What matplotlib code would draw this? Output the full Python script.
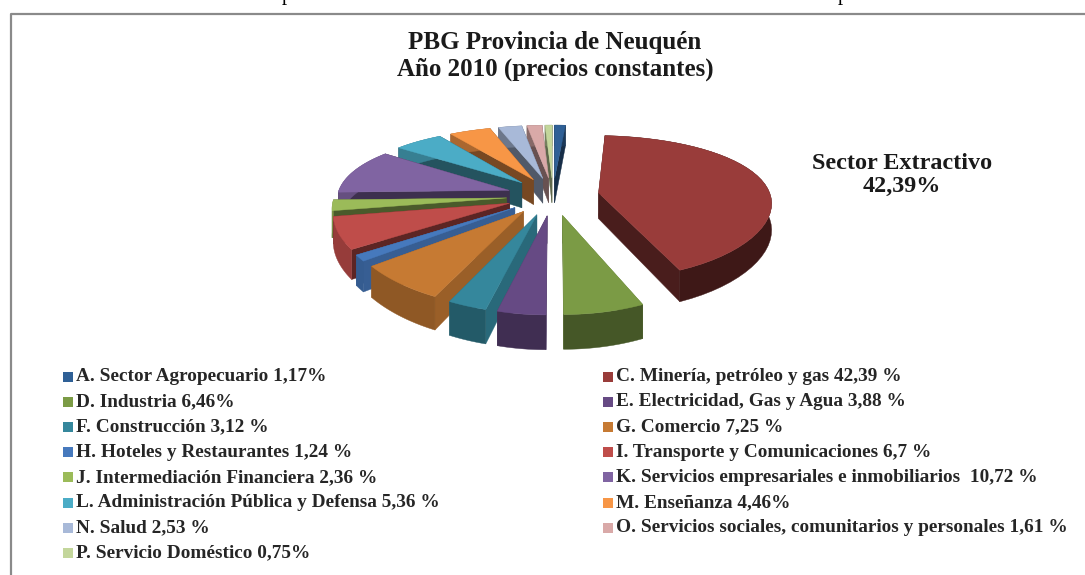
import numpy as np
import matplotlib.pyplot as plt
from matplotlib.colors import to_rgb

plt.rcParams['font.family'] = ['Liberation Serif', 'DejaVu Serif']

titulo = 'PBG Provincia de Neuquén\nAño 2010 (precios constantes)'
nota = 'Sector Extractivo\n42,39%'

# valores de cada sector, en el orden de la torta
valores = [1.17, 42.39, 6.46, 3.88, 3.12, 7.25, 1.24, 6.7, 2.36, 10.72, 5.36, 4.46, 2.53, 1.61, 0.75]
colores = ['#2f6096', '#993c3a', '#7b9b45', '#664a84', '#35879c', '#c67a33', '#4679bd', '#bf4d4a',
           '#9bbb59', '#8064a2', '#4bacc6', '#f79646', '#a8b9d8', '#d9a9a8', '#c3d69b']
etiquetas = ['A. Sector Agropecuario 1,17%', 'C. Minería, petróleo y gas 42,39 %',
             'D. Industria 6,46%', 'E. Electricidad, Gas y Agua 3,88 %',
             'F. Construcción 3,12 %', 'G. Comercio 7,25 %',
             'H. Hoteles y Restaurantes 1,24 %', 'I. Transporte y Comunicaciones 6,7 %',
             'J. Intermediación Financiera 2,36 %', 'K. Servicios empresariales e inmobiliarios  10,72 %',
             'L. Administración Pública y Defensa 5,36 %', 'M. Enseñanza 4,46%',
             'N. Salud 2,53 %', 'O. Servicios sociales, comunitarios y personales 1,61 %',
             'P. Servicio Doméstico 0,75%']

cx, cy = 553, 196
rx, ry = 172, 70
explode = 0.27
alto = 26


# torta "3D": plano inclinado con algo de perspectiva
def proyectar(x, y, z=0):
    px = 1 / (1 + 0.12 * y)
    py = 1 / (1 + 0.2 * y)
    return cx + rx * x * px, cy - ry * y * py + z * alto * py


def oscuro(c, f):
    return tuple(v * f for v in to_rgb(c))


fig = plt.figure(figsize=(10.85, 5.75), dpi=100)
ax = fig.add_axes([0, 0, 1, 1])
ax.set_xlim(0, 1085)
ax.set_ylim(575, 0)
ax.axis('off')

ax.plot([10.5, 10.5, 1085], [575, 13.5, 13.5], color='#8a8a8a', lw=1.6)
ax.text(287, 0, 'p', fontsize=15, ha='center', va='baseline')
ax.text(843, 0, 'p', fontsize=15, ha='center', va='baseline')

limites = np.cumsum([0] + valores) / 100 * 2 * np.pi
medios = (limites[:-1] + limites[1:]) / 2
# primero los sectores de atras
orden = np.argsort(-np.cos(medios))

for i in orden:
    a = np.linspace(limites[i], limites[i + 1], 40)
    ox, oy = explode * np.sin(medios[i]), explode * np.cos(medios[i])
    bx, by = ox + np.sin(a), oy + np.cos(a)
    tx, ty = np.r_[ox, bx], np.r_[oy, by]
    # caras laterales, la luz viene de la izquierda
    f_radial = 0.48 if np.cos(medios[i]) > -0.5 else 0.78
    f_arco = 0.6 - 0.2 * np.sin(medios[i])
    for j in [1, len(tx) - 1]:
        x1, y1 = proyectar(tx[[0, j]], ty[[0, j]])
        x2, y2 = proyectar(tx[[0, j]], ty[[0, j]], 1)
        ax.fill(np.r_[x1, x2[::-1]], np.r_[y1, y2[::-1]], color=oscuro(colores[i], f_radial), lw=0.3)
    x1, y1 = proyectar(bx, by)
    x2, y2 = proyectar(bx, by, 1)
    ax.fill(np.r_[x1, x2[::-1]], np.r_[y1, y2[::-1]], color=oscuro(colores[i], f_arco), lw=0.3)
    x0, y0 = proyectar(tx, ty)
    ax.fill(x0, y0, color=colores[i], lw=0.3)

ax.text(555, 56, titulo, fontsize=18, fontweight='bold', ha='center', va='center',
        linespacing=1.2, color='#1a1a1a')
ax.text(902, 175, nota, fontsize=17.4, fontweight='bold', ha='center', va='center',
        linespacing=1.1, color='#1a1a1a')

# leyenda en dos columnas: primero A, despues C, etc.
for k, (et, col) in enumerate(zip(etiquetas, colores)):
    fila = k // 2
    x = 63 if k % 2 == 0 else 603
    y = 376.5 + fila * 25.2
    ax.scatter([x + 5], [y], marker='s', s=50, color=col, lw=0)
    ax.text(x + 13, y, et, fontsize=13.9, fontweight='bold', ha='left', va='center', color='#262626')

fig.savefig('out.png', dpi=100)
